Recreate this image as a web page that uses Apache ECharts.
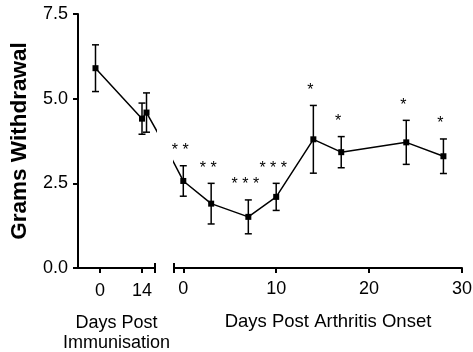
<!DOCTYPE html>
<html>
<head>
<meta charset="utf-8">
<script src="https://cdn.jsdelivr.net/npm/echarts@6/dist/echarts.min.js"></script>
<style>
html, body { margin: 0; padding: 0; background: #fff; }
#chart { width: 473px; height: 352px; }
</style>
</head>
<body>
<div id="chart"></div>
<script>
// days post immunisation
var immDays = [-1.5, 14, 15.5];
var immMean = [5.9, 4.41, 4.59];
var immSem = [0.69, 0.46, 0.58];

// days post arthritis onset
var onsetDays = [0, 3, 7, 10, 14, 17, 24, 28];
var onsetMean = [2.57, 1.90, 1.51, 2.10, 3.80, 3.42, 3.71, 3.30];
var onsetSem = [0.45, 0.60, 0.50, 0.40, 1.00, 0.46, 0.65, 0.51];
var onsetStars = ['* *', '* *', '* * *', '* * *', '*', '*', '*', '*'];

var yTicks = [0, 2.5, 5, 7.5];
var immTicks = [0, 14];
var onsetTicks = [0, 10, 20, 30];

// the two pieces of the broken x axis
var immMin = -7.33, immMax = 18.33;
var onsetMin = -1, onsetMax = 30;
// where the joining line is aimed on the other piece (clipped by the grid)
var bridgeImmX = 28.2, bridgeOnsetX = -3.8;

var FONT = '"Liberation Sans", Arial, Helvetica, sans-serif';
var black = '#000';

var chart = echarts.init(document.getElementById('chart'));

var immLine = immDays.map(function (d, i) { return [d, immMean[i]]; });
immLine.push({ value: [bridgeImmX, onsetMean[0]], symbol: 'none' });
var onsetLine = onsetDays.map(function (d, i) { return [d, onsetMean[i]]; });
onsetLine.unshift({ value: [bridgeOnsetX, immMean[immMean.length - 1]], symbol: 'none' });

var immErr = immDays.map(function (d, i) { return [d, immMean[i] - immSem[i], immMean[i] + immSem[i]]; });
var onsetErr = onsetDays.map(function (d, i) { return [d, onsetMean[i] - onsetSem[i], onsetMean[i] + onsetSem[i]]; });

function makeErrorBar(stars) {
	return function (params, api) {
		var x = api.value(0);
		var top = api.coord([x, api.value(2)]);
		var bot = api.coord([x, api.value(1)]);
		var w = 3.5;
		var st = { stroke: black, lineWidth: 1.5 };
		var kids = [
			{ type: 'line', shape: { x1: top[0], y1: top[1], x2: bot[0], y2: bot[1] }, style: st },
			{ type: 'line', shape: { x1: top[0] - w, y1: top[1], x2: top[0] + w, y2: top[1] }, style: st },
			{ type: 'line', shape: { x1: bot[0] - w, y1: bot[1], x2: bot[0] + w, y2: bot[1] }, style: st }
		];
		if (stars && stars[params.dataIndex]) {
			kids.push({
				type: 'text', x: top[0] - 3, y: top[1] - 15,
				style: { text: stars[params.dataIndex], fill: black, font: '16px ' + FONT, align: 'center', verticalAlign: 'middle' }
			});
		}
		return { type: 'group', children: kids };
	};
}

// end cap of an axis piece at the break
function capItem(params, api) {
	var p = api.coord([api.value(0), 0]);
	return { type: 'line', shape: { x1: p[0], y1: p[1] - 5, x2: p[0], y2: p[1] + 5 }, style: { stroke: black, lineWidth: 2 } };
}

var axisLine = { show: true, onZero: false, lineStyle: { color: black, width: 2 } };
var tickStyle = { color: black, width: 2 };
var labelStyle = { color: black, fontSize: 18, fontFamily: FONT };

var option = {
	animation: false,
	backgroundColor: '#fff',
	grid: [
		{ left: 78, top: 14, width: 77, height: 254, outerBoundsMode: 'none' },
		{ left: 174, top: 14, width: 288, height: 254, outerBoundsMode: 'none' }
	],
	xAxis: [{
		gridIndex: 0, type: 'value', min: immMin, max: immMax,
		axisLine: axisLine,
		axisTick: { show: true, length: 5, customValues: immTicks, lineStyle: tickStyle },
		axisLabel: Object.assign({ customValues: immTicks, margin: 14 }, labelStyle),
		splitLine: { show: false },
		name: 'Days Post\nImmunisation', nameLocation: 'middle', nameGap: 45,
		nameTextStyle: { color: black, fontSize: 18, fontFamily: FONT, lineHeight: 20 }
	}, {
		gridIndex: 1, type: 'value', min: onsetMin, max: onsetMax,
		axisLine: axisLine,
		axisTick: { show: true, length: 5, customValues: onsetTicks, lineStyle: tickStyle },
		axisLabel: Object.assign({ customValues: onsetTicks, margin: 12 }, labelStyle),
		splitLine: { show: false },
		name: 'Days Post Arthritis Onset', nameLocation: 'middle', nameGap: 44,
		nameTextStyle: { color: black, fontSize: 18.5, fontFamily: FONT, padding: [0, 0, 0, 20] }
	}],
	yAxis: [{
		gridIndex: 0, type: 'value', min: 0, max: 7.5,
		axisLine: axisLine,
		axisTick: { show: true, length: 5, customValues: yTicks, lineStyle: tickStyle },
		axisLabel: Object.assign({
			customValues: yTicks, margin: 10,
			formatter: function (v) { return v.toFixed(1); }
		}, labelStyle),
		splitLine: { show: false },
		name: 'Grams Withdrawal', nameLocation: 'middle', nameGap: 47,
		nameTextStyle: { color: black, fontSize: 22.5, fontWeight: 'bold', fontFamily: FONT }
	}, {
		gridIndex: 1, type: 'value', min: 0, max: 7.5, show: false
	}],
	series: [{
		type: 'custom', xAxisIndex: 0, yAxisIndex: 0, renderItem: makeErrorBar(null), data: immErr, z: 2
	}, {
		type: 'custom', xAxisIndex: 1, yAxisIndex: 1, renderItem: makeErrorBar(onsetStars), data: onsetErr, z: 2
	}, {
		type: 'line', xAxisIndex: 0, yAxisIndex: 0, data: immLine, clip: true,
		symbol: 'rect', symbolSize: 6, lineStyle: { color: black, width: 1.5 }, itemStyle: { color: black }, z: 3
	}, {
		type: 'line', xAxisIndex: 1, yAxisIndex: 1, data: onsetLine, clip: true,
		symbol: 'rect', symbolSize: 6, lineStyle: { color: black, width: 1.5 }, itemStyle: { color: black }, z: 3
	}, {
		type: 'custom', xAxisIndex: 0, yAxisIndex: 0, renderItem: capItem, data: [[immMax]], z: 4
	}, {
		type: 'custom', xAxisIndex: 1, yAxisIndex: 1, renderItem: capItem, data: [[onsetMin]], z: 4
	}]
};

chart.setOption(option);
</script>
</body>
</html>
